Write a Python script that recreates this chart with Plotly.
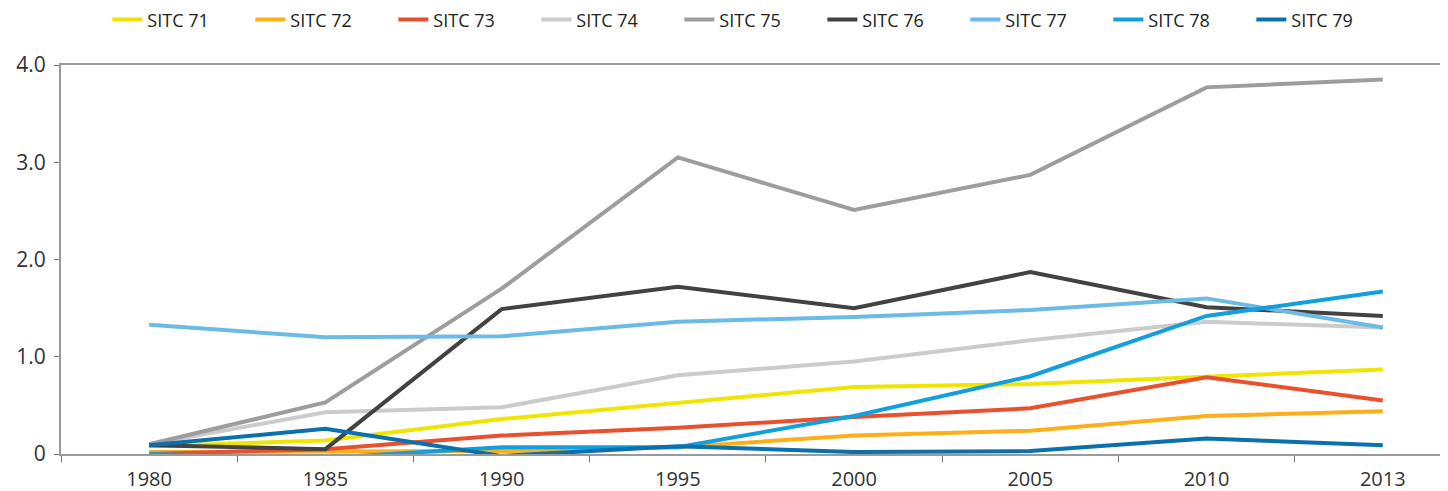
"""
SITC 71-79 shares over time, line chart
"""

import plotly.graph_objects as go

years = ["1980", "1985", "1990", "1995", "2000", "2005", "2010", "2013"]

sitc_71 = [0.08, 0.14, 0.36, 0.52, 0.69, 0.72, 0.79, 0.87]
sitc_72 = [0.02, 0.03, 0.03, 0.07, 0.19, 0.24, 0.39, 0.44]
sitc_73 = [0.00, 0.05, 0.19, 0.27, 0.38, 0.47, 0.79, 0.55]
sitc_74 = [0.10, 0.43, 0.48, 0.81, 0.95, 1.17, 1.36, 1.30]
sitc_75 = [0.10, 0.53, 1.70, 3.05, 2.51, 2.87, 3.77, 3.85]
sitc_76 = [0.09, 0.05, 1.49, 1.72, 1.50, 1.87, 1.51, 1.42]
sitc_77 = [1.33, 1.20, 1.21, 1.36, 1.41, 1.48, 1.60, 1.30]
sitc_78 = [0.00, -0.04, 0.07, 0.07, 0.39, 0.80, 1.42, 1.67]
sitc_79 = [0.09, 0.26, -0.02, 0.08, 0.02, 0.03, 0.16, 0.09]

series_names = ["SITC 71", "SITC 72", "SITC 73", "SITC 74", "SITC 75",
                "SITC 76", "SITC 77", "SITC 78", "SITC 79"]
series_values = [sitc_71, sitc_72, sitc_73, sitc_74, sitc_75,
                 sitc_76, sitc_77, sitc_78, sitc_79]
series_colors = ["#F0E500", "#FBAF1A", "#E9502D", "#CBCBCB", "#9D9D9D",
                 "#424242", "#6CBBE6", "#119FDD", "#0A70AE"]

fig = go.Figure()
for i in range(len(series_names)):
    fig.add_trace(go.Scatter(
        x=years,
        y=series_values[i],
        mode="lines",
        name=series_names[i],
        line=dict(color=series_colors[i], width=4),
    ))

# page body adds ~8px margin, so figure is a bit smaller and shifted
fig.update_layout(
    width=1440,
    height=483,
    plot_bgcolor="white",
    paper_bgcolor="white",
    margin=dict(l=53, r=0, t=57, b=37, autoexpand=False),
    font=dict(family="Open Sans, sans-serif", color="#333333", size=16),
    legend=dict(
        orientation="h",
        xref="container", yref="paper",
        x=0.069, xanchor="left",
        y=1.116, yanchor="middle",
        entrywidth=98,
        font=dict(size=18, color="#222222"),
        itemwidth=30,
    ),
    xaxis=dict(
        type="category",
        range=[-0.5, 7.37],
        showline=True, linecolor="#9a9a9a", linewidth=2,
        mirror=True,
        showgrid=False, zeroline=False,
        ticks="outside", ticklen=6, tickcolor="#777777",
        tickson="boundaries",
        ticklabelstandoff=6,
        tickfont=dict(size=20, color="#333333"),
    ),
    yaxis=dict(
        range=[0, 4],
        tickvals=[0, 1, 2, 3, 4],
        ticktext=["0", "1.0", "2.0", "3.0", "4.0"],
        showline=True, linecolor="#9a9a9a", linewidth=2,
        showgrid=False, zeroline=False,
        ticks="outside", ticklen=5, tickcolor="#777777",
        ticklabelstandoff=4,
        tickfont=dict(size=21, color="#333333"),
    ),
)

fig.write_html("out.html")
